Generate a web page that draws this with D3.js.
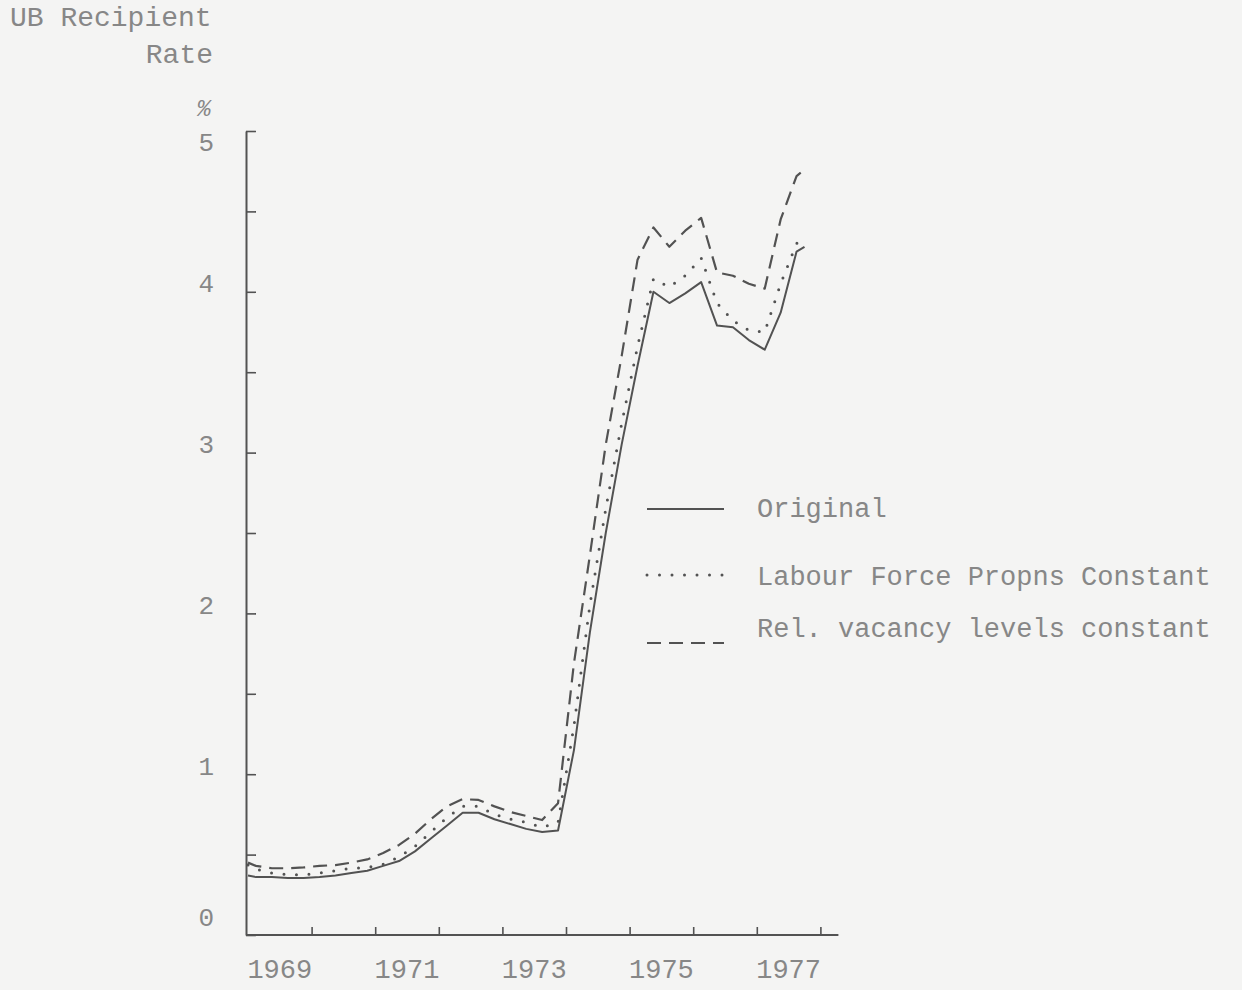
<!DOCTYPE html>
<html>
<head>
<meta charset="utf-8">
<script src="https://cdn.jsdelivr.net/npm/d3@7"></script>
<style>
  html, body { margin: 0; padding: 0; background: #f4f4f3; }
  svg { display: block; }
  text { font-family: "Liberation Mono", "DejaVu Sans Mono", monospace; fill: #878787; }
</style>
</head>
<body>
<svg id="chart" width="1242" height="990"></svg>
<script>
// Quarterly observations (decimal years, plotted mid-quarter)
const dates = [
  1969.0, 1969.125, 1969.375, 1969.625, 1969.875,
  1970.125, 1970.375, 1970.625, 1970.875,
  1971.125, 1971.375, 1971.625, 1971.875,
  1972.125, 1972.375, 1972.625, 1972.875,
  1973.125, 1973.375, 1973.625, 1973.875,
  1974.125, 1974.375, 1974.625, 1974.875,
  1975.125, 1975.375, 1975.625, 1975.875,
  1976.125, 1976.375, 1976.625, 1976.875,
  1977.125, 1977.375, 1977.625, 1977.75
];

// UB recipient rate, %
const original = [
  0.37, 0.36, 0.36, 0.355, 0.355,
  0.36, 0.37, 0.385, 0.40,
  0.43, 0.46, 0.52, 0.60,
  0.68, 0.76, 0.76, 0.72,
  0.69, 0.66, 0.64, 0.65,
  1.15, 1.88, 2.50, 3.05,
  3.54, 4.00, 3.93, 3.99,
  4.06, 3.79, 3.78, 3.70,
  3.64, 3.87, 4.25, 4.28
];

const labourForceConst = [
  0.435, 0.41, 0.385, 0.375, 0.375,
  0.385, 0.40, 0.415, 0.42,
  0.44, 0.485, 0.55, 0.64,
  0.73, 0.80, 0.80, 0.75,
  0.72, 0.70, 0.67, 0.70,
  1.30, 2.05, 2.65, 3.18,
  3.66, 4.08, 4.03, 4.10,
  4.21, 3.93, 3.82, 3.76,
  3.75, 4.05, 4.30, 4.34
];

const vacancyConst = [
  0.45, 0.43, 0.415, 0.415, 0.42,
  0.43, 0.435, 0.45, 0.47,
  0.51, 0.56, 0.63, 0.72,
  0.80, 0.845, 0.84, 0.80,
  0.765, 0.74, 0.715, 0.82,
  1.69, 2.36, 3.05, 3.60,
  4.20, 4.40, 4.28, 4.38,
  4.46, 4.12, 4.10, 4.05,
  4.02, 4.45, 4.72, 4.76
];

const yTicks = [0, 0.5, 1, 1.5, 2, 2.5, 3, 3.5, 4, 4.5, 5];
const yearTicks = [1970, 1971, 1972, 1973, 1974, 1975, 1976, 1977, 1978];
const yearLabels = [1969, 1971, 1973, 1975, 1977];

const seriesNames = ["Original", "Labour Force Propns Constant", "Rel. vacancy levels constant"];

const ink = "#525252";
const svg = d3.select("#chart");

const x = d3.scaleLinear().domain([1969, 1978]).range([248, 820.4]);
const y = d3.scaleLinear().domain([0, 5]).range([935, 131]);

// y axis: ticks point inward, only whole numbers labelled
const yAxis = d3.axisLeft(y)
  .tickValues(yTicks)
  .tickSizeInner(-10)
  .tickSizeOuter(0)
  .tickPadding(32)
  .tickFormat(d => Number.isInteger(d) ? String(d) : "");

const gy = svg.append("g")
  .attr("transform", `translate(${x(1969) - 2},0)`)
  .call(yAxis);
gy.select(".domain").attr("stroke", ink).attr("stroke-width", 2);
gy.selectAll(".tick line").attr("stroke", ink).attr("stroke-width", 1.6);
// typed labels sit a little above their ticks; the top one sits below
gy.selectAll(".tick text")
  .attr("dy", d => d === 5 ? 19 : d === 0 ? -10 : 0)
  .style("font-size", "26px")
  .style("fill", "#878787")
  .style("font-family", "'Liberation Mono', monospace");

// x axis: yearly ticks pointing up
const xAxis = d3.axisBottom(x)
  .tickValues(yearTicks)
  .tickSizeInner(-8)
  .tickSizeOuter(0)
  .tickFormat("");

const gx = svg.append("g")
  .attr("transform", `translate(0,${y(0)})`)
  .call(xAxis);
gx.select(".domain").remove();
gx.selectAll(".tick line").attr("stroke", ink).attr("stroke-width", 1.6);
gx.append("line")
  .attr("x1", x(1969) - 2).attr("x2", x(1978) + 18)
  .attr("y1", 0).attr("y2", 0)
  .attr("stroke", ink).attr("stroke-width", 1.8);

// year labels centred on each year
svg.append("g").selectAll("text")
  .data(yearLabels)
  .join("text")
  .attr("x", d => x(d + 0.5))
  .attr("y", 978)
  .attr("text-anchor", "middle")
  .style("font-size", "27px")
  .text(d => d);

// axis title
svg.append("text").attr("x", 10).attr("y", 26).style("font-size", "28px").text("UB Recipient");
svg.append("text").attr("x", 213).attr("y", 63).attr("text-anchor", "end").style("font-size", "28px").text("Rate");
svg.append("text").attr("x", 204).attr("y", 116).attr("text-anchor", "middle")
  .style("font-size", "23px").style("font-style", "italic").text("%");

// series
const line = d3.line()
  .x((d, i) => x(dates[i]))
  .y(d => y(d))
  .curve(d3.curveLinear);

const styles = [
  { data: original, dash: null, width: 2, cap: "butt" },
  { data: labourForceConst, dash: "0,12.5", width: 3, cap: "round" },
  { data: vacancyConst, dash: "14,8", width: 2.2, cap: "butt" }
];

svg.append("g").selectAll("path")
  .data(styles)
  .join("path")
  .attr("d", s => line(s.data))
  .attr("fill", "none")
  .attr("stroke", ink)
  .attr("stroke-width", s => s.width)
  .attr("stroke-linecap", s => s.cap)
  .attr("stroke-linejoin", "round")
  .attr("stroke-dasharray", s => s.dash);

// legend
const legendRows = [
  { name: seriesNames[0], ly: 509, ty: 517, style: styles[0] },
  { name: seriesNames[1], ly: 575, ty: 585, style: styles[1] },
  { name: seriesNames[2], ly: 643, ty: 637, style: styles[2] }
];
const lg = svg.append("g");
lg.selectAll("line")
  .data(legendRows)
  .join("line")
  .attr("x1", 647).attr("x2", 724)
  .attr("y1", d => d.ly).attr("y2", d => d.ly)
  .attr("stroke", ink)
  .attr("stroke-width", d => d.style.width)
  .attr("stroke-linecap", d => d.style.cap)
  .attr("stroke-dasharray", d => d.style.dash);
lg.selectAll("text")
  .data(legendRows)
  .join("text")
  .attr("x", 757)
  .attr("y", d => d.ty)
  .style("font-size", "27px")
  .text(d => d.name);
</script>
</body>
</html>
